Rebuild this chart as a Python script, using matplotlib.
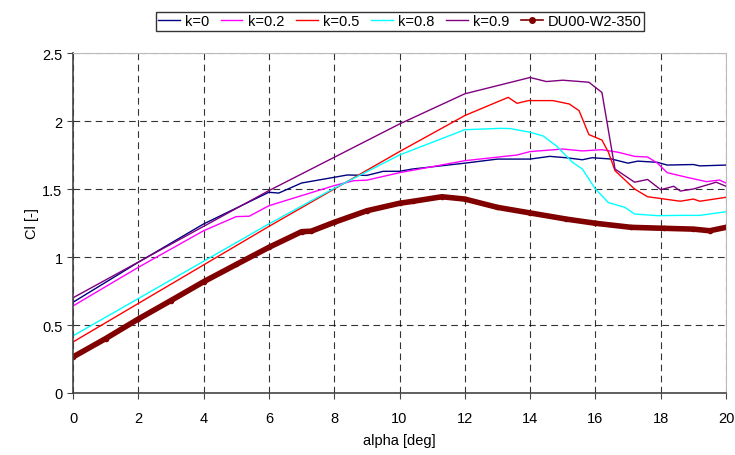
import matplotlib
matplotlib.use("Agg")
import matplotlib.pyplot as plt

plt.rcParams['font.family'] = ['Liberation Sans', 'DejaVu Sans']

# k=0
a_k0 = [0, 2, 4, 6, 6.3, 7, 8, 8.4, 9, 9.5, 10, 10.4, 12, 13, 14, 14.6, 15.1, 15.6, 15.9, 16.5, 17.0, 17.3, 17.9, 18.2, 19, 19.2, 20]
cl_k0 = [0.667, 0.961, 1.243, 1.476, 1.47, 1.544, 1.586, 1.603, 1.60, 1.63, 1.63, 1.647, 1.69, 1.72, 1.72, 1.74, 1.73, 1.715, 1.73, 1.72, 1.69, 1.705, 1.696, 1.676, 1.68, 1.67, 1.676]
# k=0.2
a_k02 = [0, 2, 4, 5, 5.4, 6, 7, 8, 8.6, 9, 10, 12, 13.6, 14, 15, 15.6, 16.2, 16.7, 17.2, 17.6, 17.9, 18.2, 18.8, 19.4, 19.8, 20]
cl_k02 = [0.64, 0.924, 1.193, 1.297, 1.30, 1.377, 1.451, 1.525, 1.561, 1.565, 1.62, 1.708, 1.75, 1.775, 1.794, 1.78, 1.789, 1.77, 1.74, 1.735, 1.69, 1.62, 1.586, 1.554, 1.566, 1.544]
# k=0.5
a_k05 = [0, 6, 8, 10, 12, 13.33, 13.6, 13.95, 14.7, 15.2, 15.5, 15.8, 16.2, 16.4, 16.6, 17.2, 17.6, 18.0, 18.6, 19.0, 19.2, 20]
cl_k05 = [0.375, 1.225, 1.5, 1.775, 2.04, 2.174, 2.13, 2.15, 2.15, 2.125, 2.076, 1.90, 1.86, 1.77, 1.635, 1.5, 1.443, 1.43, 1.41, 1.426, 1.41, 1.439]
# k=0.8
a_k08 = [0, 6, 8, 10, 12, 13.1, 13.4, 14, 14.4, 14.8, 15.3, 15.6, 16.0, 16.4, 16.9, 17.2, 17.9, 18.6, 19.2, 20]
cl_k08 = [0.42, 1.243, 1.505, 1.75, 1.936, 1.946, 1.944, 1.917, 1.89, 1.818, 1.696, 1.647, 1.5, 1.40, 1.365, 1.316, 1.304, 1.306, 1.306, 1.333]
# k=0.9
a_k09 = [0, 6, 10, 12, 14, 14.5, 15, 15.8, 16.2, 16.6, 17.2, 17.6, 18.0, 18.4, 18.6, 19.0, 19.7, 20]
cl_k09 = [0.70, 1.488, 1.978, 2.20, 2.32, 2.29, 2.30, 2.285, 2.21, 1.647, 1.55, 1.57, 1.495, 1.52, 1.485, 1.50, 1.55, 1.52]
# DU00-W2-350
a_du = [0, 1, 2, 3, 4, 5, 6, 7, 7.3, 8, 9, 10, 10.4, 11.3, 12, 13, 14, 15.1, 16, 17.1, 18.1, 19, 19.5, 20]
cl_du = [0.265, 0.40, 0.544, 0.68, 0.818, 0.945, 1.071, 1.186, 1.19, 1.255, 1.34, 1.395, 1.409, 1.443, 1.426, 1.365, 1.324, 1.279, 1.248, 1.218, 1.211, 1.205, 1.193, 1.218]

xticks = list(range(0, 21, 2))
yticks = [0, 0.5, 1, 1.5, 2, 2.5]

fig = plt.figure(figsize=(7.35, 4.56), dpi=100)
ax = fig.add_axes([73/735, 62/456, 653/735, 340/456])

ax.plot(a_k0, cl_k0, color='#000080', lw=1.0, label='k=0')
ax.plot(a_k02, cl_k02, color='#FF00FF', lw=1.0, label='k=0.2')
ax.plot(a_k05, cl_k05, color='#FF0000', lw=1.0, label='k=0.5')
ax.plot(a_k08, cl_k08, color='#00FFFF', lw=1.0, label='k=0.8')
ax.plot(a_k09, cl_k09, color='#800080', lw=1.0, label='k=0.9')
ax.plot(a_du, cl_du, color='#800000', lw=4.0, marker='o', ms=4, mew=0, label='DU00-W2-350')

ax.set_xlim(0, 20)
ax.set_ylim(0, 2.5)
ax.set_xticks(xticks)
ax.set_yticks(yticks)
ax.set_yticklabels(['0', '0.5', '1', '1.5', '2', '2.5'])
ax.grid(True, color='black', linestyle=(0, (6, 4)), lw=0.8, alpha=0.8)
ax.set_axisbelow(True)
for s in ['top', 'right']:
    ax.spines[s].set_color('#BBBBBB')
for s in ['left', 'bottom']:
    ax.spines[s].set_color('#444444')
    ax.spines[s].set_linewidth(1.2)
ax.tick_params(axis='both', labelsize=10.5, direction='out', length=4, color='#444444')
ax.tick_params(axis='x', pad=9)
ax.set_xlabel('alpha [deg]', fontsize=10.5, labelpad=6)
ax.set_ylabel('Cl [-]', fontsize=10.5, labelpad=2)

leg_handles, leg_labels = ax.get_legend_handles_labels()
leg = fig.legend(leg_handles, leg_labels, loc='center', bbox_to_anchor=(400/735, 1 - 22.5/456), ncol=6,
                 fontsize=10.5, frameon=True, fancybox=False, edgecolor='black',
                 handlelength=1.45, handletextpad=0.35, columnspacing=0.85, borderpad=0.2,
                 borderaxespad=0.2)
leg.get_frame().set_linewidth(1.0)
for h in leg.legend_handles:
    if h.get_label() == 'DU00-W2-350':
        h.set_linewidth(1.2)
        h.set_markersize(4)
        h.set_markeredgewidth(1)

fig.savefig('out.png', dpi=100)
